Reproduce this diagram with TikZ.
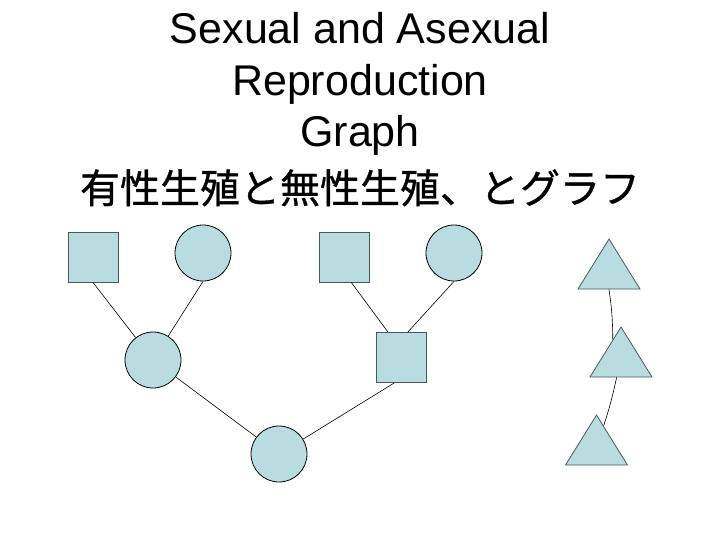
\documentclass[tikz,border=0pt]{standalone}
\usepackage{fontspec}
\setmainfont{Liberation Sans}
\newfontfamily\cjk[FakeBold=0.8]{Noto Sans CJK JP}
\usetikzlibrary{shapes.geometric}
\definecolor{fillblue}{RGB}{184,220,224}
\definecolor{sqborder}{RGB}{70,90,92}
\tikzset{
  sqnode/.style={rectangle,draw=sqborder,fill=fillblue,line width=0.9pt,minimum size=50pt,inner sep=0pt},
  cinode/.style={circle,draw=black,fill=fillblue,line width=0.8pt,minimum size=56pt,inner sep=0pt},
  trinode/.style={isosceles triangle,isosceles triangle stretches,shape border rotate=90,draw=sqborder,fill=fillblue,line width=0.8pt,minimum width=62pt,minimum height=50pt,inner sep=0pt,anchor=apex},
  link/.style={draw=black,line width=0.6pt},
  titletext/.style={inner sep=0pt,anchor=base,font=\fontsize{43}{52}\selectfont}
}
\begin{document}
\begin{tikzpicture}[x=1pt,y=-1pt]
\useasboundingbox (0,0) rectangle (720,540);
\node[titletext] (t1line) at (360,44) {Sexual and Asexual};
\node[titletext] (t2line) at (360,96) {Reproduction};
\node[titletext] (t3line) at (360,147) {Graph};
\node[titletext,font=\fontsize{40}{52}\selectfont\cjk] (t4line) at (360,203) {有性生殖と無性生殖、とグラフ};

\node[sqnode] (s1) at (93,257) {};
\node[cinode] (c1) at (203,253) {};
\node[sqnode] (s2) at (344.5,257) {};
\node[cinode] (c2) at (454,253) {};
\node[cinode] (c3) at (153,360) {};
\node[sqnode] (sm) at (401.5,357.5) {};
\node[cinode] (c4) at (279,454) {};

\node[trinode] (t1) at (609,238) {};
\node[trinode] (t2) at (621,326) {};
\node[trinode] (t3) at (596.5,414) {};

\draw[link] (s1.south) -- (c3);
\draw[link] (c1.south) -- (c3);
\draw[link] (s2.-75) -- (sm.118);
\draw[link] (c2.south) -- (sm.76);
\draw[link] (c3) -- (c4);
\draw[link] (sm.-106) -- (c4);
\draw[link] (t1.-90) to[bend left=4] (t2.112);
\draw[link] (t2.-104) to[bend left=3] (t3.72);
\end{tikzpicture}
\end{document}
